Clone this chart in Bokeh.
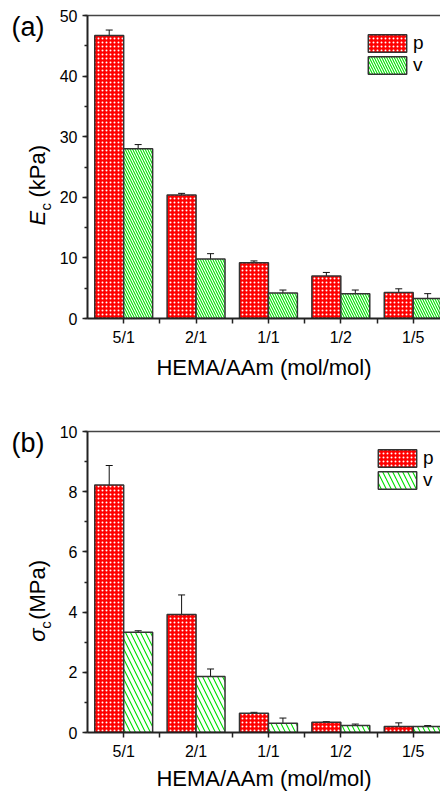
import math
from bokeh.plotting import figure
from bokeh.layouts import column, row
from bokeh.models import (ColumnDataSource, Range1d, FixedTicker, LinearAxis, Whisker,
                          TeeHead, Legend, LegendItem, SingleIntervalTicker)
from bokeh.core.properties import value
from bokeh.transform import dodge
from bokeh.embed import file_html
from bokeh.resources import INLINE

categories = ["5/1", "2/1", "1/1", "1/2", "1/5"]

Ec_p = [46.7, 20.4, 9.2, 7.0, 4.3]
Ec_p_err = [0.9, 0.25, 0.3, 0.6, 0.6]
Ec_v = [28.0, 9.8, 4.2, 4.1, 3.3]
Ec_v_err = [0.7, 0.9, 0.5, 0.6, 0.8]

sig_p = [8.22, 3.92, 0.64, 0.34, 0.20]
sig_p_err = [0.65, 0.65, 0.03, 0.02, 0.12]
sig_v = [3.33, 1.86, 0.31, 0.23, 0.20]
sig_v_err = [0.05, 0.25, 0.17, 0.05, 0.03]

FONT = "Liberation Sans"
RED = "#ff0000"
GREEN = "#00e000"
EDGE = "#333333"
AXIS = "#222222"
LEFT_W = 56


def make_side(height, border_top, border_bottom, tag, sym, sym_top, sub_off, unit_off):
    # narrow figure holding the panel tag and the rotated y title; data units == pixels
    # measured from the figure top (y = height - pixel_row)
    s = figure(width=LEFT_W, height=height, output_backend="svg", toolbar_location=None,
               x_range=Range1d(0, LEFT_W), y_range=Range1d(border_bottom, height - border_top),
               x_axis_type=None, y_axis_type=None, min_border_left=0, min_border_right=0,
               min_border_top=border_top, min_border_bottom=border_bottom,
               outline_line_color=None, background_fill_color="white", border_fill_color="white")
    s.grid.visible = False
    s.text(x=[11], y=[height - border_top + 4], text=[tag], text_font=value(FONT), text_font_size="27px",
           text_align="left", text_baseline="top", text_color="black")
    ang = math.pi / 2
    y0 = height - sym_top
    s.text(x=[37], y=[y0], text=[sym[0]], angle=ang, text_font=value(FONT), text_font_size="22px",
           text_font_style="italic", text_align="left", text_baseline="alphabetic", text_color="black")
    s.text(x=[45], y=[y0 + sub_off], text=[sym[1]], angle=ang, text_font=value(FONT), text_font_size="15px",
           text_align="left", text_baseline="alphabetic", text_color="black")
    s.text(x=[37], y=[y0 + unit_off], text=[sym[2]], angle=ang, text_font=value(FONT), text_font_size="22px",
           text_align="left", text_baseline="alphabetic", text_color="black")
    return s


def make_panel(p_vals, p_err, v_vals, v_err, ymax, yint, height, border_top, border_bottom,
               green_scale, leg_loc, title_standoff):
    x_idx = list(range(1, len(categories) + 1))
    src = ColumnDataSource(dict(
        x=x_idx,
        p=p_vals, p_up=[a + b for a, b in zip(p_vals, p_err)], p_lo=[a - b for a, b in zip(p_vals, p_err)],
        v=v_vals, v_up=[a + b for a, b in zip(v_vals, v_err)], v_lo=[a - b for a, b in zip(v_vals, v_err)],
    ))
    fig = figure(width=440 - LEFT_W, height=height, output_backend="svg", toolbar_location=None,
                 x_range=Range1d(0.5, 5.377), y_range=Range1d(0, ymax),
                 min_border_left=84 - LEFT_W, min_border_right=0, min_border_top=border_top,
                 min_border_bottom=border_bottom, outline_line_color=None,
                 background_fill_color="white", border_fill_color="white")
    fig.grid.visible = False

    rp = fig.vbar(x=dodge("x", -0.2), top="p", width=0.4, bottom=0, source=src,
                  fill_color=RED, line_color=EDGE, line_width=1.5,
                  hatch_pattern="dot", hatch_color="white", hatch_scale=4, hatch_weight=1)
    rv = fig.vbar(x=dodge("x", 0.2), top="v", width=0.4, bottom=0, source=src,
                  fill_color="white", line_color=EDGE, line_width=1.5,
                  hatch_pattern="left_diagonal_line", hatch_color=GREEN,
                  hatch_scale=green_scale, hatch_weight=1.1)

    for base, up, lo in ((dodge("x", -0.2), "p_up", "p_lo"), (dodge("x", 0.2), "v_up", "v_lo")):
        w = Whisker(base=base, upper=up, lower=lo, source=src, line_color="#111111", line_width=1,
                    upper_head=TeeHead(size=7, line_color="#111111", line_width=1),
                    lower_head=TeeHead(size=7, line_color="#111111", line_width=1))
        fig.add_layout(w)

    xa = fig.xaxis[0]
    xa.ticker = FixedTicker(ticks=x_idx, minor_ticks=[i + 0.5 for i in x_idx[:-1]])
    xa.major_label_overrides = {i: c for i, c in zip(x_idx, categories)}
    xa.axis_label = "HEMA/AAm (mol/mol)"
    xa.axis_label_text_font = FONT
    xa.axis_label_text_font_size = "22px"
    xa.axis_label_text_font_style = "normal"
    xa.axis_label_text_color = "black"
    xa.axis_label_standoff = title_standoff
    xa.major_label_text_font = FONT
    xa.major_label_text_font_size = "16px"
    xa.major_label_text_color = "black"
    xa.major_label_standoff = 5
    xa.major_tick_in = 0
    xa.major_tick_out = 5
    xa.minor_tick_in = 0
    xa.minor_tick_out = 5
    xa.axis_line_width = 2
    xa.axis_line_color = AXIS
    xa.major_tick_line_color = AXIS
    xa.minor_tick_line_color = AXIS
    xa.major_tick_line_width = 1.5
    xa.minor_tick_line_width = 1.5

    ya = fig.yaxis[0]
    ya.ticker = SingleIntervalTicker(interval=yint, num_minor_ticks=2)
    ya.major_label_text_font = FONT
    ya.major_label_text_font_size = "16px"
    ya.major_label_text_color = "black"
    ya.major_label_standoff = 5
    ya.major_tick_in = 0
    ya.major_tick_out = 5
    ya.minor_tick_in = 0
    ya.minor_tick_out = 3
    ya.axis_line_width = 2
    ya.axis_line_color = AXIS
    ya.major_tick_line_color = AXIS
    ya.minor_tick_line_color = AXIS
    ya.major_tick_line_width = 1.5
    ya.minor_tick_line_width = 1.5

    top = LinearAxis(ticker=FixedTicker(ticks=[]), major_label_text_font_size="0px",
                     major_tick_out=0, minor_tick_out=0, major_label_standoff=0,
                     axis_line_color="#444444", axis_line_width=1.5)
    fig.add_layout(top, "above")

    leg = Legend(items=[LegendItem(label="p", renderers=[rp]), LegendItem(label="v", renderers=[rv])],
                 location=leg_loc, padding=0, margin=0, spacing=0,
                 glyph_width=48, glyph_height=22, label_standoff=2, label_height=20,
                 label_text_font=FONT, label_text_font_size="19px", label_text_color="black",
                 background_fill_alpha=0, border_line_color=None)
    fig.add_layout(leg)
    return fig


HA, HB = 400, 393
TA, BA = 15, 82
TB, BB = 31, 60
pa = make_panel(Ec_p, Ec_p_err, Ec_v, Ec_v_err, 50, 10, HA, TA, BA, 5, (276, 242), 6)
pb = make_panel(sig_p, sig_p_err, sig_v, sig_v_err, 10, 2, HB, TB, BB, 10, (286, 241), 3)
sa = make_side(HA, TA, BA, "(a)", ("E", "c", "(kPa)"), 225, 15, 28)
sb = make_side(HB, TB, BB, "(b)", ("\u03c3", "c", "(MPa)"), 242, 13, 22)

layout = column(row(sa, pa, spacing=0), row(sb, pb, spacing=0), spacing=0)
open("out.html", "w").write(file_html(layout, INLINE))
